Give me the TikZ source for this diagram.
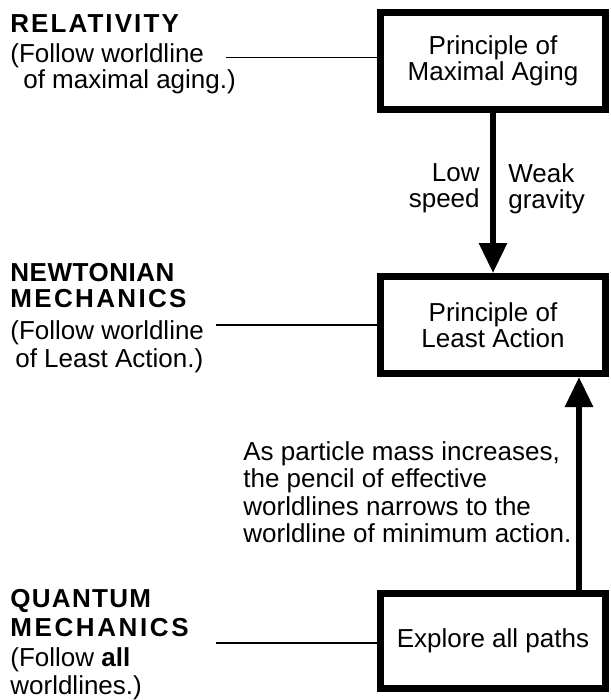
\documentclass[tikz,border=0pt]{standalone}
\usepackage{fontspec}
\setmainfont{Liberation Sans}
\usepackage{tikz}
\usetikzlibrary{arrows.meta,positioning,calc}
\tikzset{principle/.style={draw, line width=0.14cm, minimum width=4.5cm, minimum height=1.94cm, align=center, font=\fontsize{14.8pt}{14.8pt}\selectfont}}
\tikzset{flow/.style={line width=0.12cm, -{Triangle[length=0.6cm,width=0.54cm]}}}
\tikzset{guide/.style={line width=1.1pt}}
\tikzset{theory/.style={anchor=north west, inner sep=0pt, align=left, font=\fontsize{14.8pt}{14.8pt}\selectfont}}
\tikzset{remark/.style={inner sep=0pt, font=\fontsize{14.8pt}{14.8pt}\selectfont}}
\newcommand{\theoryname}[2][6]{{\bfseries\addfontfeature{LetterSpace=#1}#2}}

\begin{document}
\begin{tikzpicture}
    \useasboundingbox (0,0) rectangle (12.2,-14);
    \node[principle] at (9.86,-1.22) (aging) {Principle of\\Maximal Aging};
    \node[principle] at (9.86,-6.50) (least) {Principle of\\Least Action};
    \node[principle, minimum height=1.9cm] at (9.86,-12.82) (paths) {Explore all paths};
    \draw[flow] (aging) -- (least);
    \draw[flow] ([xshift=1.72cm]paths.north) -- ([xshift=1.72cm]least.south);

    \node[remark, anchor=north east, align=right] at (9.6,-3.268) (low) {Low\\speed};
    \node[remark, anchor=north west, align=left] at (10.16,-3.268) (weak) {Weak\\gravity};
    \node[remark, anchor=north west, align=left, font=\fontsize{14.8pt}{15.5pt}\selectfont] at (4.86,-8.828) (mass) {As particle mass increases,\\the pencil of effective\\worldlines narrows to the\\worldline of minimum action.};

    \node[theory] at (0.2,-0.288) (rel) {\theoryname[8]{RELATIVITY}\\[0.08cm](Follow worldline\\\hspace*{0.26cm}of maximal aging.)};
    \node[theory] at (0.2,-5.268) (newt) {\theoryname[2]{NEWTONIAN}\\[0.0cm]\theoryname[9]{MECHANICS}\\[0.12cm](Follow worldline\\[0.04cm]\hspace*{0.1cm}of Least Action.)};
    \node[theory] at (0.2,-11.776) (quant) {\theoryname[5]{QUANTUM}\\[0.06cm]\theoryname[10]{MECHANICS}\\[0.08cm](Follow \textbf{all}\\[0.04cm]worldlines.)};

    \coordinate (r) at (4.52,-1.15);
    \coordinate (n) at (4.32,-6.5);
    \coordinate (q) at (4.32,-12.86);
    \draw[guide] (r) -- (r -| aging.west);
    \draw[guide] (n) -- (n -| least.west);
    \draw[guide] (q) -- (q -| paths.west);
\end{tikzpicture}
\end{document}
